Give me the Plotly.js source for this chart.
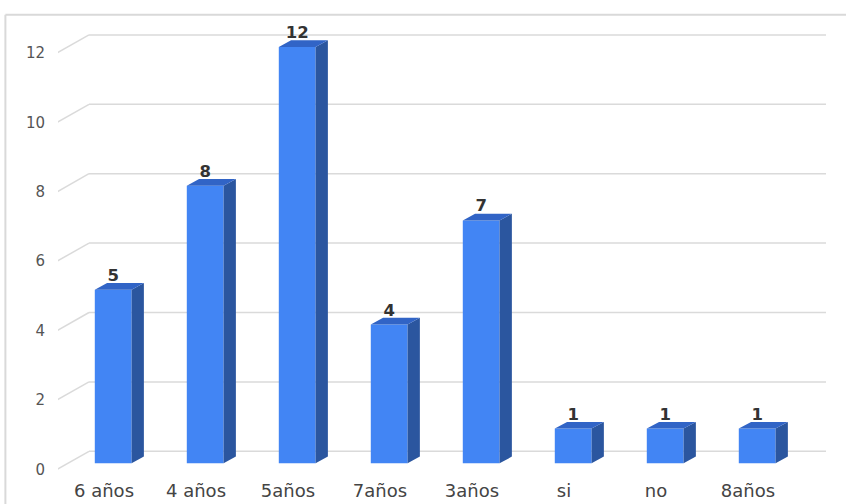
<!DOCTYPE html>
<html>
<head>
<meta charset="utf-8">
<script src="https://cdn.plot.ly/plotly-3.0.1.min.js"></script>
<style>html,body{margin:0;padding:0;background:#fff;}#chart{width:846px;height:504px;}</style>
</head>
<body>
<div id="chart"></div>
<script>
const categories = ["6 años", "4 años", "5años", "7años", "3años", "si", "no", "8años"];
const values = [5, 8, 12, 4, 7, 1, 1, 1];
const yTicks = [0, 2, 4, 6, 8, 10, 12];

// 3D look parameters (axis units)
const barOffset = -0.1, barWidth = 0.4;
const depthX = 0.1335, depthY = 0.193;
const wallX = 0.337, wallBack = 0.346, wallFront = -0.173;
const labelLift = 0.14;

const idx = categories.map((c, i) => i);

// side and top faces built from values
const sideX = [], sideY = [], topX = [], topY = [];
idx.forEach(i => {
  const v = values[i];
  const r = i + barOffset + barWidth, l = i + barOffset;
  sideX.push(r, r + depthX, r + depthX, r, r, null);
  sideY.push(0, depthY, v + depthY, v, 0, null);
  topX.push(l, r, r + depthX, l + depthX, l, null);
  topY.push(v, v, v + depthY, v + depthY, v, null);
});

const traces = [
  {type: 'bar', x: idx, y: values, offset: barOffset, width: barWidth,
   marker: {color: '#4285F4', line: {width: 0}}, hoverinfo: 'skip', showlegend: false},
  {type: 'scatter', mode: 'lines', x: sideX, y: sideY, fill: 'toself', fillcolor: '#2B569F',
   line: {width: 0, color: '#2B569F'}, hoverinfo: 'skip', showlegend: false},
  {type: 'scatter', mode: 'lines', x: topX, y: topY, fill: 'toself', fillcolor: '#3164C6',
   line: {width: 0, color: '#3164C6'}, hoverinfo: 'skip', showlegend: false},
  {type: 'scatter', mode: 'text', x: idx.map(i => i + barOffset + barWidth / 2),
   y: values.map(v => v + labelLift),
   text: values.map(String), textposition: 'top center',
   textfont: {family: 'DejaVu Sans', size: 16.5, color: '#333333', weight: 'bold'},
   hoverinfo: 'skip', showlegend: false}
];

const shapes = [];
yTicks.forEach(v => {
  shapes.push({type: 'line', layer: 'below', xref: 'x', yref: 'y',
    x0: -0.5 + wallX, x1: 7.848, y0: v + wallBack, y1: v + wallBack,
    line: {color: '#dadada', width: 1.5}});
  shapes.push({type: 'line', layer: 'below', xref: 'x', yref: 'y',
    x0: -0.508, x1: -0.5 + wallX, y0: v + wallFront, y1: v + wallBack,
    line: {color: '#dadada', width: 1.5}});
});
// outer frame (top and left)
shapes.push({type: 'line', xref: 'paper', yref: 'paper', x0: -0.0685, x1: 1.03, y0: 1.0115, y1: 1.0115,
  line: {color: '#d9d9d9', width: 2}});
shapes.push({type: 'line', xref: 'paper', yref: 'paper', x0: -0.0685, x1: -0.0685, y0: 1.0115, y1: -0.08,
  line: {color: '#d9d9d9', width: 2}});

const layout = {
  width: 846, height: 504,
  margin: {l: 58, r: 20, t: 20, b: 34},
  paper_bgcolor: '#ffffff', plot_bgcolor: 'rgba(0,0,0,0)',
  showlegend: false,
  xaxis: {range: [-0.5, 7.848], tickvals: idx, ticktext: categories, showgrid: false,
    zeroline: false, showline: false, ticks: '', fixedrange: true, ticklabelstandoff: 8,
    tickfont: {family: 'DejaVu Sans', size: 18, color: '#444444'}},
  yaxis: {range: [-0.193, 12.775], tickvals: yTicks, ticktext: yTicks.map(String), showgrid: false,
    zeroline: false, showline: false, ticks: '', ticklabelshift: 6, ticklabelstandoff: 12,
    tickfont: {family: 'DejaVu Sans', size: 15, color: '#555555'}, fixedrange: true},
  shapes: shapes
};

Plotly.newPlot('chart', traces, layout, {displayModeBar: false, staticPlot: true});
</script>
</body>
</html>
